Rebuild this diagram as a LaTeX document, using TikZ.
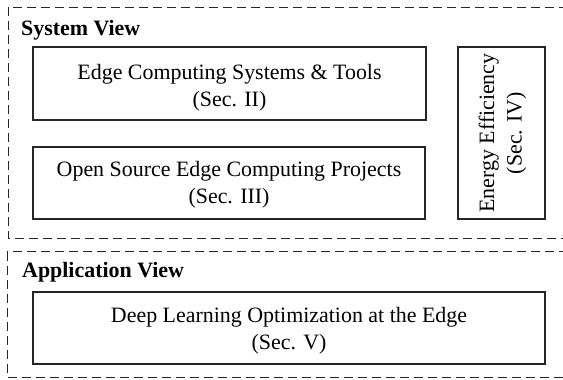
\documentclass[tikz,border=0pt]{standalone}
\usepackage{fontspec}
\setmainfont{Liberation Serif}
\begin{document}
\begin{tikzpicture}[x=1bp,y=-1bp,
  viewbox/.style={draw=black!85, line width=1bp, dash pattern=on 9bp off 5bp},
  secbox/.style={draw=black!85, line width=1.2bp},
  boxtext/.style={align=center, font=\fontsize{22}{27.5}\selectfont, inner sep=0pt},
  viewtitle/.style={anchor=base west, font=\fontsize{22}{26}\selectfont\bfseries, inner sep=0pt}]
\useasboundingbox (0,0) rectangle (563,379);
\begin{scope}
\clip (0,0) rectangle (563,379);
\draw[viewbox] (8,7) rectangle (575,238);
\draw[viewbox] (7,251.5) rectangle (575,377);
\end{scope}
\node[viewtitle] (sysview) at (21,35) {System View};
\node[viewtitle] (appview) at (22,277) {Application View};
\draw[secbox] (33,47) rectangle (426,120);
\node[boxtext] (edge) at (229.5,87.5) {Edge Computing Systems \& Tools\\(Sec. II)};
\draw[secbox] (33,147) rectangle (425,219);
\node[boxtext] (open) at (229,184.5) {Open Source Edge Computing Projects\\(Sec. III)};
\draw[secbox] (458,47) rectangle (545,219);
\node[boxtext, rotate=90] (energy) at (502.5,133) {Energy Efficiency\\(Sec. IV)};
\draw[secbox] (33,292) rectangle (545,364);
\node[boxtext] (deep) at (289,330.5) {Deep Learning Optimization at the Edge\\(Sec. V)};
\end{tikzpicture}
\end{document}
